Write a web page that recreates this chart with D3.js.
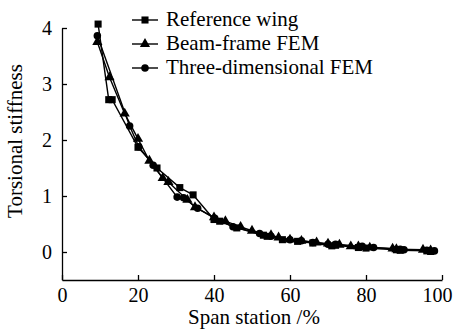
<!DOCTYPE html>
<html>
<head>
<meta charset="utf-8">
<script src="https://cdn.jsdelivr.net/npm/d3@7"></script>
</head>
<body style="margin:0;background:#fff">
<div id="chart"></div>
<script>
// span station (%) and torsional stiffness
const refSpan = [9.5, 12.3, 13.2, 20, 25, 31, 34.5, 40, 41.5, 46, 53, 54, 58, 62, 66, 71, 72, 78, 80, 88, 89, 96, 97]
const refVal  = [4.07, 2.72, 2.72, 1.87, 1.5, 1.15, 1.02, 0.58, 0.55, 0.43, 0.3, 0.28, 0.22, 0.19, 0.16, 0.11, 0.12, 0.08, 0.07, 0.04, 0.03, 0.02, 0.01]

const beamSpan = [9.3, 12.5, 16.5, 20, 23, 26.5, 28, 33, 35, 40, 43, 47, 50, 55, 57, 60, 63, 67, 70, 73, 76, 78, 81, 87, 88, 95, 97]
const beamVal  = [3.75, 3.12, 2.47, 2.02, 1.63, 1.32, 1.25, 0.93, 0.8, 0.62, 0.55, 0.45, 0.38, 0.3, 0.26, 0.22, 0.2, 0.17, 0.15, 0.13, 0.1, 0.1, 0.08, 0.06, 0.05, 0.04, 0.03]

const solidSpan = [9.3, 17.8, 20.2, 24, 30.3, 32, 35.7, 40.2, 45, 52, 55, 60, 63, 66, 70, 72, 79, 82, 89, 90, 96, 98]
const solidVal  = [3.86, 2.25, 1.88, 1.55, 0.98, 0.97, 0.78, 0.6, 0.45, 0.33, 0.28, 0.22, 0.2, 0.17, 0.14, 0.14, 0.1, 0.08, 0.05, 0.04, 0.03, 0.02]

const seriesNames = ["Reference wing", "Beam-frame FEM", "Three-dimensional FEM"]
const xTicks = [0, 20, 40, 60, 80, 100]
const yTicks = [0, 1, 2, 3, 4]

const W = 453, H = 329
const margin = {top: 28, right: 11, bottom: 49, left: 62}
const width = W - margin.left - margin.right
const height = H - margin.top - margin.bottom
const font = "Liberation Serif"

const svg = d3.select("#chart").append("svg")
    .attr("width", W).attr("height", H)
const g = svg.append("g")
    .attr("transform", `translate(${margin.left},${margin.top})`)

const x = d3.scaleLinear().domain([0, 100]).range([0, width])
const y = d3.scaleLinear().domain([-0.5, 4]).range([height, 0])

// axes, ticks pointing inward
const xAxis = g.append("g")
    .attr("transform", `translate(0,${height})`)
    .call(d3.axisBottom(x).tickValues(xTicks).tickFormat(d3.format("d"))
      .tickSizeInner(-5).tickSizeOuter(0).tickPadding(8))
const yAxis = g.append("g")
    .call(d3.axisLeft(y).tickValues(yTicks).tickFormat(d3.format("d"))
      .tickSizeInner(-5).tickSizeOuter(0).tickPadding(10))
;[xAxis, yAxis].forEach(a => {
  a.attr("font-family", font)
  a.selectAll("path, line").attr("stroke", "#000").attr("stroke-width", 1.3)
  a.selectAll("text").attr("font-size", 20).attr("font-family", font).attr("fill", "#000")
})
// last label sits a bit left so it stays inside the frame
xAxis.selectAll(".tick text").filter(d => d === 100).attr("dx", -5)

svg.append("text")
    .attr("x", margin.left + width / 2 + 2).attr("y", 324)
    .attr("text-anchor", "middle").attr("font-size", 21).attr("font-family", font)
    .text("Span station /%")
svg.append("text")
    .attr("transform", `translate(22,${margin.top + 113}) rotate(-90)`)
    .attr("text-anchor", "middle").attr("font-size", 21).attr("font-family", font)
    .text("Torsional stiffness")

const series = [
  {name: seriesNames[0], pts: refSpan.map((s, i) => [s, refVal[i]]), sym: d3.symbolSquare, size: 50},
  {name: seriesNames[1], pts: beamSpan.map((s, i) => [s, beamVal[i]]), sym: d3.symbolTriangle, size: 45},
  {name: seriesNames[2], pts: solidSpan.map((s, i) => [s, solidVal[i]]), sym: d3.symbolCircle, size: 45}
]

const line = d3.line().x(d => x(d[0])).y(d => y(d[1]))

series.forEach(s => {
  g.append("path")
      .datum(s.pts)
      .attr("fill", "none").attr("stroke", "#000").attr("stroke-width", 1.4)
      .attr("d", line)
  g.selectAll(null)
      .data(s.pts)
      .join("path")
      .attr("transform", d => `translate(${x(d[0])},${y(d[1])})`)
      .attr("d", d3.symbol(s.sym, s.size))
      .attr("fill", "#000")
})

// legend
const legend = svg.append("g").attr("transform", "translate(132,20)")
series.forEach((s, i) => {
  const row = legend.append("g").attr("transform", `translate(0,${i * 24})`)
  row.append("line").attr("x1", 0).attr("x2", 26).attr("stroke", "#000").attr("stroke-width", 1.4)
  row.append("path").attr("transform", "translate(13,0)")
      .attr("d", d3.symbol(s.sym, s.size)).attr("fill", "#000")
  row.append("text").attr("x", 34).attr("y", 6).attr("font-size", 21)
      .attr("font-family", font).text(s.name)
})
</script>
</body>
</html>
